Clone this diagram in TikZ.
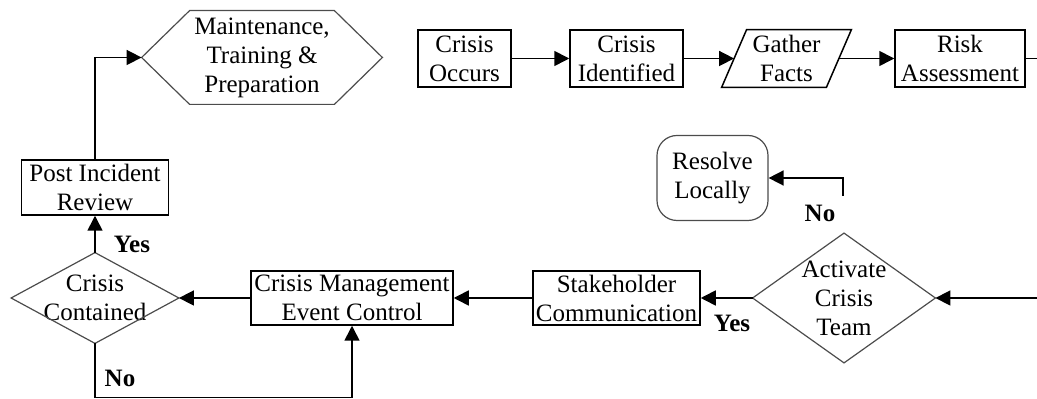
\documentclass[tikz,border=0pt]{standalone}
\usepackage{fontspec}
\setmainfont{Liberation Serif}
\usetikzlibrary{arrows.meta}

\tikzset{
  txt/.style={inner sep=1pt, align=center, font=\fontsize{12.5}{14.5}\selectfont},
  box/.style={txt, draw, line width=0.75pt},
  terminal/.style={txt, draw=black!70, line width=0.6pt, rounded corners=10pt},
  outline/.style={draw=black!70, line width=0.6pt},
  flow/.style={line width=0.8pt, -{Triangle[length=7.5pt,width=7.5pt]}},
  answer/.style={inner sep=0pt, font=\fontsize{12.5}{14.5}\selectfont\bfseries},
}

\begin{document}
\begin{tikzpicture}[x=0.5pt, y=-0.5pt]
  \useasboundingbox (0,0) rectangle (1037,399);

  % Top row
  \node[box, minimum width=46.5pt, minimum height=28.5pt] (occurs) at (464.5,58.5) {Crisis\\Occurs};
  \node[box, minimum width=56.5pt, minimum height=28.5pt] (ident) at (626.5,58.5) {Crisis\\Identified};
  \node[txt, minimum width=52pt, minimum height=28.5pt] (facts) at (786.5,58.5) {Gather\\Facts};
  \draw[line width=0.75pt] ([xshift=-6.25pt]facts.south west) -- ([xshift=6.25pt]facts.north west)
    -- ([xshift=6.25pt]facts.north east) -- ([xshift=-6.25pt]facts.south east) -- cycle;
  \node[box, minimum width=65pt, minimum height=28.5pt] (risk) at (960,58.5) {Risk\\Assessment};
  \coordinate (riskout) at (1037,58.5);

  \draw[flow] (occurs) -- (ident);
  \draw[flow] (ident) -- (facts);
  \draw[flow] (facts) -- (risk);
  \draw[line width=0.8pt] (risk) -- (riskout);

  % Maintenance hexagon
  \node[txt, minimum width=120pt, minimum height=46.5pt] (mtp) at (262,57.5) {Maintenance,\\Training \&\\Preparation};
  \draw[outline] (mtp.west) -- ([xshift=24pt]mtp.north west) -- ([xshift=-24pt]mtp.north east)
    -- (mtp.east) -- ([xshift=-24pt]mtp.south east) -- ([xshift=24pt]mtp.south west) -- cycle;

  % Local resolution
  \node[terminal, minimum width=55.5pt, minimum height=42.5pt] (resolve) at (712.5,178) {Resolve\\Locally};
  \coordinate (noend) at (843,196);
  \draw[flow] (noend) |- (resolve.east);
  \node[answer] (no1) at (820,213) {No};

  % Activation decision
  \node[txt, minimum width=91pt, minimum height=64.5pt] (activate) at (844,298) {Activate\\Crisis\\Team};
  \draw[outline] (activate.west) -- (activate.north) -- (activate.east) -- (activate.south) -- cycle;
  \coordinate (inright) at (1037,298);
  \draw[flow] (inright) -- (activate.east);
  \node[answer] (yes1) at (732,323) {Yes};

  % Bottom row
  \node[box, minimum width=83.5pt, minimum height=27pt] (stake) at (616.5,298) {Stakeholder\\Communication};
  \node[box, minimum width=101pt, minimum height=27pt] (cmec) at (352,298) {Crisis Management\\Event Control};
  \node[txt, minimum width=83.5pt, minimum height=45pt] (contained) at (95,298) {Crisis\\Contained};
  \draw[outline] (contained.west) -- (contained.north) -- (contained.east) -- (contained.south) -- cycle;
  \node[box, minimum width=73.5pt, minimum height=27.5pt] (review) at (95,187.5) {Post Incident\\Review};

  \draw[flow] (activate.west) -- (stake.east);
  \draw[flow] (stake.west) -- (cmec.east);
  \draw[flow] (cmec.west) -- (contained.east);
  \draw[flow] (contained.north) -- (review.south);
  \draw[flow] (review.north) |- (mtp.west);
  \draw[flow] (contained.south) -- ++(0,54) -| (cmec.south);

  \node[answer] (yes2) at (132,244) {Yes};
  \node[answer] (no2) at (120,378) {No};
\end{tikzpicture}
\end{document}
